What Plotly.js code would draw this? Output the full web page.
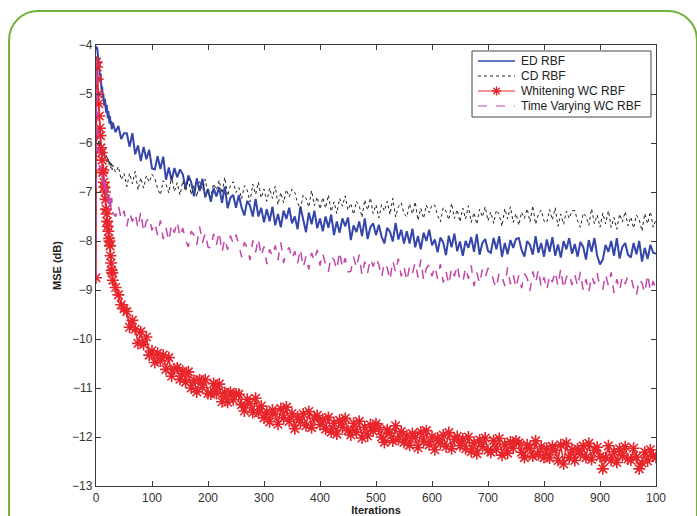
<!DOCTYPE html>
<html>
<head>
<meta charset="utf-8">
<script src="https://cdn.plot.ly/plotly-3.0.1.min.js"></script>
<style>
  html, body { margin: 0; padding: 0; background: #ffffff; }
  #wrap { position: relative; width: 697px; height: 516px; overflow: hidden; }
  #chart { position: absolute; left: 0; top: 0; width: 697px; height: 516px; }
  #frame { position: absolute; left: 8px; top: 10px; width: 690px; height: 540px;
           border: 2px solid #72b33f; border-radius: 30px; pointer-events: none; box-sizing: border-box; }
</style>
</head>
<body>
<div id="wrap">
  <div id="chart"></div>
  <div id="frame"></div>
</div>
<script>
// Iteration index (x values)
const iterations = [
  0, 1, 2, 3, 4, 5, 6, 7, 8, 9, 10, 11, 12, 13, 14, 15, 16, 17, 18, 19, 20,
  21, 22, 23, 24, 25, 26, 27, 28, 29, 30,
  35, 40, 45, 50,
  55, 60, 65, 70, 75, 80, 85, 90, 95, 100,
  105, 110, 115, 120, 125, 130, 135, 140, 145, 150,
  155, 160, 165, 170, 175, 180, 185, 190, 195, 200,
  205, 210, 215, 220, 225, 230, 235, 240, 245, 250,
  255, 260, 265, 270, 275, 280, 285, 290, 295, 300,
  305, 310, 315, 320, 325, 330, 335, 340, 345, 350,
  355, 360, 365, 370, 375, 380, 385, 390, 395, 400,
  405, 410, 415, 420, 425, 430, 435, 440, 445, 450,
  455, 460, 465, 470, 475, 480, 485, 490, 495, 500,
  505, 510, 515, 520, 525, 530, 535, 540, 545, 550,
  555, 560, 565, 570, 575, 580, 585, 590, 595, 600,
  605, 610, 615, 620, 625, 630, 635, 640, 645, 650,
  655, 660, 665, 670, 675, 680, 685, 690, 695, 700,
  705, 710, 715, 720, 725, 730, 735, 740, 745, 750,
  755, 760, 765, 770, 775, 780, 785, 790, 795, 800,
  805, 810, 815, 820, 825, 830, 835, 840, 845, 850,
  855, 860, 865, 870, 875, 880, 885, 890, 895, 900,
  905, 910, 915, 920, 925, 930, 935, 940, 945, 950,
  955, 960, 965, 970, 975, 980, 985, 990, 995, 1000];

// ED RBF (MSE, dB)
const edRBF = [
  -4.02, -4.1, -4.05, -4.2, -4.35, -4.3, -4.55, -4.62, -4.58, -4.85, -4.92,
  -4.85, -5.08, -5.0, -5.18, -5.25, -5.1, -5.32, -5.38, -5.22, -5.45,
  -5.5, -5.35, -5.55, -5.6, -5.45, -5.62, -5.55, -5.72, -5.68, -5.58,
  -5.78, -5.65, -5.92, -5.8,
  -5.80, -6.08, -5.80, -6.23, -6.05, -6.37, -6.08, -6.33, -6.14, -6.52,
  -6.54, -6.27, -6.53, -6.28, -6.75, -6.50, -6.77, -6.51, -6.70, -6.54,
  -6.64, -6.93, -6.66, -6.80, -7.09, -6.72, -6.98, -6.73, -7.11, -6.94,
  -7.20, -6.92, -7.09, -6.90, -7.22, -6.89, -7.33, -7.12, -7.06, -7.32,
  -7.06, -7.32, -7.48, -7.18, -7.28, -7.50, -7.14, -7.50, -7.32, -7.62,
  -7.35, -7.60, -7.30, -7.68, -7.45, -7.72, -7.38, -7.55, -7.32, -7.64,
  -7.50, -7.76, -7.30, -7.56, -7.82, -7.42, -7.66, -7.38, -7.74, -7.54,
  -7.80, -7.50, -7.73, -7.46, -7.88, -7.60, -7.83, -7.54, -7.70, -7.52,
  -7.98, -7.68, -7.82, -7.60, -7.90, -7.54, -7.96, -7.72, -7.64, -7.88,
  -7.67, -7.91, -8.05, -7.73, -7.81, -8.01, -7.63, -7.97, -7.77, -8.05,
  -7.80, -8.05, -7.75, -8.13, -7.90, -8.17, -7.83, -8.00, -7.77, -8.09,
  -7.97, -8.23, -7.93, -8.03, -8.29, -7.89, -8.13, -7.85, -8.21, -8.01,
  -8.30, -8.00, -8.14, -7.92, -8.22, -7.86, -8.28, -8.04, -7.96, -8.20,
  -8.24, -7.94, -8.17, -7.90, -8.32, -8.04, -8.27, -7.98, -8.14, -7.96,
  -7.94, -8.18, -8.32, -8.00, -8.08, -8.28, -7.90, -8.24, -8.04, -8.32,
  -7.97, -8.22, -7.92, -8.30, -8.07, -8.34, -8.00, -8.17, -7.94, -8.26,
  -8.06, -8.32, -8.02, -8.12, -8.38, -7.98, -8.22, -7.94, -8.30, -8.48,
  -8.38, -8.08, -8.22, -8.00, -8.30, -7.94, -8.36, -8.12, -8.04, -8.28,
  -8.34, -8.04, -8.27, -8.00, -8.42, -8.14, -8.37, -8.08, -8.24, -8.26];

// CD RBF
const cdRBF = [
  -5.8, -5.75, -5.9, -5.85, -5.95, -6.05, -5.95, -6.1, -6.0, -6.15, -6.1,
  -6.22, -6.12, -6.25, -6.18, -6.3, -6.2, -6.32, -6.25, -6.38, -6.28,
  -6.4, -6.3, -6.45, -6.35, -6.48, -6.4, -6.52, -6.42, -6.55, -6.45,
  -6.6, -6.48, -6.75, -6.62,
  -6.89, -6.62, -6.83, -6.58, -6.96, -6.71, -6.92, -6.67, -6.80, -6.64,
  -6.72, -6.93, -7.06, -6.77, -6.84, -7.02, -6.68, -6.99, -6.81, -7.06,
  -6.77, -6.99, -6.72, -7.06, -6.86, -7.10, -6.79, -6.95, -6.74, -7.03,
  -7.10, -6.83, -6.96, -6.76, -7.03, -6.70, -7.08, -6.87, -6.79, -7.01,
  -6.91, -7.14, -6.87, -6.96, -7.20, -6.84, -7.05, -6.80, -7.12, -6.94,
  -7.19, -6.92, -7.13, -6.88, -7.26, -7.01, -7.22, -6.95, -7.10, -6.94,
  -7.01, -7.22, -7.35, -7.06, -7.13, -7.31, -6.97, -7.28, -7.10, -7.35,
  -7.11, -7.33, -7.06, -7.40, -7.20, -7.44, -7.13, -7.29, -7.08, -7.37,
  -7.23, -7.46, -7.19, -7.28, -7.52, -7.16, -7.37, -7.12, -7.44, -7.26,
  -7.53, -7.26, -7.39, -7.19, -7.46, -7.13, -7.51, -7.30, -7.22, -7.44,
  -7.51, -7.24, -7.45, -7.20, -7.58, -7.33, -7.54, -7.27, -7.42, -7.26,
  -7.27, -7.48, -7.61, -7.32, -7.39, -7.57, -7.23, -7.54, -7.36, -7.61,
  -7.33, -7.55, -7.28, -7.62, -7.42, -7.66, -7.35, -7.51, -7.30, -7.59,
  -7.41, -7.64, -7.37, -7.46, -7.70, -7.34, -7.55, -7.30, -7.62, -7.44,
  -7.68, -7.41, -7.54, -7.34, -7.61, -7.28, -7.66, -7.45, -7.37, -7.59,
  -7.63, -7.36, -7.57, -7.32, -7.70, -7.45, -7.66, -7.39, -7.54, -7.38,
  -7.38, -7.59, -7.72, -7.43, -7.50, -7.68, -7.34, -7.65, -7.47, -7.72,
  -7.43, -7.65, -7.38, -7.72, -7.52, -7.76, -7.45, -7.61, -7.40, -7.69,
  -7.51, -7.74, -7.47, -7.56, -7.80, -7.44, -7.65, -7.40, -7.72, -7.56];

// Whitening WC RBF
const whiteningWC = [
  -8.75, -4.35, -4.45, -4.7, -5.0, -5.2, -5.45, -5.7, -5.85, -6.1, -6.2,
  -6.35, -6.6, -6.55, -6.8, -6.9, -7.0, -7.15, -7.35, -7.45, -7.6,
  -7.7, -7.8, -7.95, -8.0, -8.1, -8.3, -8.45, -8.6, -8.65, -8.8,
  -8.95, -9.1, -9.3, -9.38,
  -9.44, -9.76, -9.62, -9.80, -10.09, -9.85, -10.11, -9.96, -10.33, -10.24,
  -10.48, -10.29, -10.45, -10.33, -10.62, -10.38, -10.76, -10.61, -10.59, -10.82,
  -10.66, -10.88, -10.67, -11.00, -10.84, -11.08, -10.83, -10.99, -10.83, -11.11,
  -11.12, -10.91, -11.11, -10.92, -11.28, -11.09, -11.29, -11.09, -11.24, -11.12,
  -11.13, -11.34, -11.47, -11.23, -11.32, -11.50, -11.21, -11.51, -11.37, -11.61,
  -11.49, -11.69, -11.45, -11.53, -11.74, -11.42, -11.61, -11.39, -11.68, -11.52,
  -11.83, -11.59, -11.70, -11.53, -11.77, -11.48, -11.81, -11.62, -11.56, -11.75,
  -11.64, -11.84, -11.60, -11.90, -11.72, -11.94, -11.66, -11.80, -11.62, -11.87,
  -11.96, -11.72, -11.90, -11.68, -12.02, -11.80, -11.98, -11.75, -11.88, -11.73,
  -11.81, -12.00, -12.11, -11.85, -11.92, -12.08, -11.77, -12.05, -11.89, -12.11,
  -11.97, -12.17, -11.93, -12.01, -12.22, -11.90, -12.09, -11.87, -12.16, -12.00,
  -12.26, -12.02, -12.13, -11.96, -12.20, -11.91, -12.24, -12.05, -11.99, -12.18,
  -12.04, -12.24, -12.00, -12.30, -12.12, -12.34, -12.06, -12.20, -12.02, -12.27,
  -12.31, -12.07, -12.25, -12.03, -12.37, -12.15, -12.33, -12.10, -12.23, -12.08,
  -12.12, -12.31, -12.42, -12.16, -12.23, -12.39, -12.08, -12.36, -12.20, -12.42,
  -12.23, -12.43, -12.19, -12.27, -12.48, -12.16, -12.55, -12.13, -12.42, -12.26,
  -12.48, -12.24, -12.35, -12.18, -12.42, -12.13, -12.46, -12.27, -12.21, -12.40,
  -12.65, -12.42, -12.18, -12.48, -12.30, -12.52, -12.24, -12.38, -12.20, -12.45,
  -12.47, -12.23, -12.41, -12.65, -12.53, -12.31, -12.49, -12.26, -12.39, -12.42];

// Time Varying WC RBF
const timeVaryingWC = [
  -8.75, -4.3, -4.9, -5.4, -5.8, -6.05, -6.25, -6.4, -6.55, -6.45, -6.65,
  -6.6, -6.82, -6.7, -6.88, -6.95, -6.78, -7.02, -7.12, -6.92, -7.15,
  -7.22, -7.02, -7.25, -7.08, -7.32, -7.18, -7.38, -7.12, -7.3, -7.42,
  -7.5, -7.28, -7.55, -7.38,
  -7.70, -7.42, -7.60, -7.44, -7.74, -7.40, -7.82, -7.60, -7.52, -7.78,
  -7.63, -7.88, -7.58, -7.96, -7.73, -8.00, -7.66, -7.83, -7.60, -7.92,
  -7.74, -7.98, -8.12, -7.80, -7.88, -8.08, -7.70, -8.04, -7.84, -8.12,
  -8.15, -7.85, -8.08, -7.81, -8.23, -7.95, -8.18, -7.89, -8.05, -7.87,
  -8.07, -8.33, -8.03, -8.13, -8.39, -7.99, -8.23, -7.95, -8.31, -8.11,
  -8.47, -8.17, -8.31, -8.09, -8.39, -8.03, -8.45, -8.21, -8.13, -8.37,
  -8.21, -8.46, -8.16, -8.54, -8.31, -8.58, -8.24, -8.41, -8.18, -8.50,
  -8.25, -8.49, -8.63, -8.31, -8.39, -8.59, -8.21, -8.55, -8.35, -8.63,
  -8.62, -8.32, -8.55, -8.28, -8.70, -8.42, -8.65, -8.36, -8.52, -8.34,
  -8.48, -8.74, -8.44, -8.54, -8.80, -8.40, -8.64, -8.36, -8.72, -8.52,
  -8.82, -8.52, -8.66, -8.44, -8.74, -8.38, -8.80, -8.56, -8.48, -8.72,
  -8.52, -8.77, -8.47, -8.85, -8.62, -8.89, -8.55, -8.72, -8.49, -8.81,
  -8.84, -8.54, -8.77, -8.50, -8.92, -8.64, -8.87, -8.58, -8.74, -8.56,
  -8.58, -8.82, -8.96, -8.64, -8.72, -8.92, -8.54, -8.88, -8.68, -8.96,
  -8.70, -8.96, -8.66, -8.76, -9.02, -8.62, -8.86, -8.58, -8.94, -8.74,
  -9.00, -8.70, -8.84, -8.62, -8.92, -8.56, -8.98, -8.74, -8.66, -8.90,
  -8.68, -8.93, -8.63, -9.01, -8.78, -9.05, -8.71, -8.88, -8.65, -8.97,
  -8.98, -8.68, -8.91, -8.64, -9.06, -8.78, -9.01, -8.72, -8.88, -8.70,
  -8.72, -8.96, -9.12, -8.78, -8.86, -9.06, -8.68, -9.02, -8.82, -9.00];

const seriesNames = ['ED RBF', 'CD RBF', 'Whitening WC RBF', 'Time Varying WC RBF'];
const xTickVals = [0, 100, 200, 300, 400, 500, 600, 700, 800, 900, 1000];
const xTickText = ['0', '100', '200', '300', '400', '500', '600', '700', '800', '900', '100'];
const yTickVals = [-13, -12, -11, -10, -9, -8, -7, -6, -5, -4];

const styles = [
  { color: '#3446ab', width: 2, dash: 'solid' },
  { color: '#222222', width: 1, dash: 'dot' },
  { color: '#e8242b', width: 1.5, dash: 'solid' },
  { color: '#c446a8', width: 1.5, dash: 'dash' }
];

const traces = [
  { x: iterations, y: edRBF, name: seriesNames[0], type: 'scatter', mode: 'lines', line: styles[0] },
  { x: iterations, y: cdRBF, name: seriesNames[1], type: 'scatter', mode: 'lines', line: styles[1] },
  { x: iterations, y: whiteningWC, name: seriesNames[2], type: 'scatter', mode: 'lines+markers',
    line: styles[2],
    marker: { symbol: 'asterisk-open', size: 10, color: '#e8242b', line: { color: '#e8242b', width: 1.6 } } },
  { x: iterations, y: timeVaryingWC, name: seriesNames[3], type: 'scatter', mode: 'lines', line: styles[3] }
];

// Plot area geometry (pixels) used to position the legend box
const M = { l: 96, r: 41, t: 45, b: 30 };
const plotW = 697 - M.l - M.r, plotH = 516 - M.t - M.b;
const px2x = p => (p - M.l) / plotW;
const px2y = p => (516 - M.b - p) / plotH;

const shapes = [];
const annotations = [];
// legend frame
shapes.push({ type: 'rect', xref: 'paper', yref: 'paper', layer: 'above',
  x0: px2x(472), x1: px2x(651), y0: px2y(117), y1: px2y(51),
  fillcolor: '#ffffff', line: { color: '#444444', width: 1 } });
const rowY = [61, 76, 91, 106];
seriesNames.forEach((name, i) => {
  const yy = px2y(rowY[i]);
  shapes.push({ type: 'line', xref: 'paper', yref: 'paper', layer: 'above',
    x0: px2x(478), x1: px2x(515), y0: yy, y1: yy,
    line: { color: styles[i].color, width: Math.max(1, styles[i].width - 0.5), dash: styles[i].dash } });
  annotations.push({ xref: 'paper', yref: 'paper', x: px2x(519), y: yy, xanchor: 'left', yanchor: 'middle',
    text: name, showarrow: false,
    font: { family: 'Liberation Sans, Arial, sans-serif', size: 12, color: '#222222' } });
});
// asterisk marker in the Whitening legend row
(function () {
  const cx = 496.5, cy = rowY[2], r = 4.5, d = 3.2;
  const P = (a, b) => px2x(a).toFixed(5) + ',' + px2y(b).toFixed(5);
  const path = 'M' + P(cx, cy - r) + 'L' + P(cx, cy + r) +
               'M' + P(cx - r, cy) + 'L' + P(cx + r, cy) +
               'M' + P(cx - d, cy - d) + 'L' + P(cx + d, cy + d) +
               'M' + P(cx - d, cy + d) + 'L' + P(cx + d, cy - d);
  shapes.push({ type: 'path', xref: 'paper', yref: 'paper', layer: 'above', path: path,
    line: { color: '#e8242b', width: 1.3 } });
})();

const axisCommon = {
  showline: true, linecolor: '#3a3a3a', linewidth: 1.2, mirror: 'ticks',
  ticks: 'inside', ticklen: 5, tickwidth: 1, tickcolor: '#3a3a3a',
  showgrid: false, zeroline: false,
  tickfont: { family: 'Liberation Sans, Arial, sans-serif', size: 12, color: '#333333' }
};

const layout = {
  width: 697, height: 516,
  margin: { l: M.l, r: M.r, t: M.t, b: M.b, pad: 0 },
  paper_bgcolor: '#ffffff', plot_bgcolor: '#ffffff',
  showlegend: false,
  xaxis: Object.assign({}, axisCommon, {
    range: [0, 1000], tickmode: 'array', tickvals: xTickVals, ticktext: xTickText,
    ticklabelstandoff: 0,
    title: { text: '<b>Iterations</b>', standoff: 2,
             font: { family: 'Liberation Sans, Arial, sans-serif', size: 11, color: '#222222' } }
  }),
  yaxis: Object.assign({}, axisCommon, {
    range: [-13, -4], tickmode: 'array', tickvals: yTickVals,
    ticklabelstandoff: 0,
    title: { text: '<b>MSE (dB)</b>', standoff: 8,
             font: { family: 'Liberation Sans, Arial, sans-serif', size: 11, color: '#222222' } }
  }),
  shapes: shapes,
  annotations: annotations
};

Plotly.newPlot('chart', traces, layout, { staticPlot: true, displayModeBar: false });
</script>
</body>
</html>
